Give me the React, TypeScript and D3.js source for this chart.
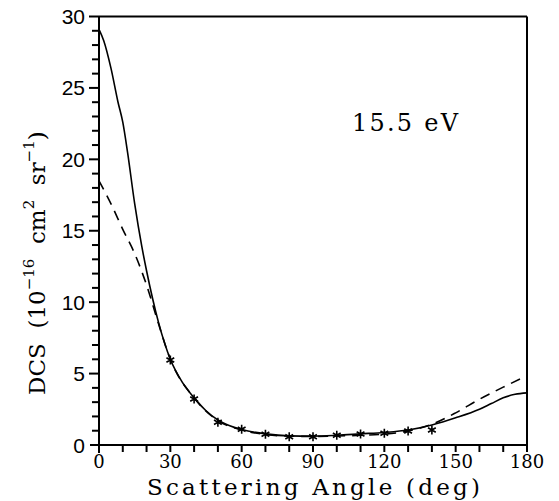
import React from "react";
import { scaleLinear, line, curveMonotoneX, range } from "d3";

// solid curve (theory 1)
const solidAngles = [0, 2, 5, 8, 10, 12, 15, 18, 20, 25, 30, 35, 40, 45, 50, 55, 60, 70, 80, 90, 100, 110, 120, 130, 140, 150, 160, 165, 170, 175, 180];
const solidDcs = [29.1, 28.3, 26.4, 24.0, 22.6, 20.5, 16.9, 13.9, 12.2, 8.6, 6.0, 4.4, 3.3, 2.4, 1.75, 1.35, 1.08, 0.78, 0.64, 0.62, 0.68, 0.78, 0.88, 1.05, 1.4, 1.9, 2.5, 2.9, 3.3, 3.55, 3.65];

// dashed curve (theory 2)
const dashAngles = [0, 5, 10, 15, 20, 25, 30, 40, 50, 60, 70, 80, 90, 100, 110, 120, 130, 140, 150, 160, 170, 180];
const dashDcs = [18.5, 16.9, 15.1, 13.4, 11.2, 8.5, 6.0, 3.3, 1.7, 1.05, 0.74, 0.62, 0.6, 0.63, 0.68, 0.76, 0.98, 1.45, 2.25, 3.2, 4.05, 4.85];

// measured points (asterisks)
const expAngles = [30, 40, 50, 60, 70, 80, 90, 100, 110, 120, 130, 140];
const expDcs = [5.95, 3.22, 1.59, 1.1, 0.75, 0.58, 0.58, 0.68, 0.77, 0.82, 0.98, 1.05];

const xTickLabels = [0, 30, 60, 90, 120, 150, 180];
const yTickLabels = [0, 5, 10, 15, 20, 25, 30];

const LEFT = 99;
const RIGHT = 527;
const TOP = 16.5;
const BOTTOM = 445;

const SERIF = "'DejaVu Serif', serif";
const SANS = "'Liberation Sans', Arial, sans-serif";

export default function App() {
  const x = scaleLinear().domain([0, 180]).range([LEFT, RIGHT]);
  const y = scaleLinear().domain([0, 30]).range([BOTTOM, TOP]);

  const lineFn = line<[number, number]>()
    .x(d => x(d[0]))
    .y(d => y(d[1]))
    .curve(curveMonotoneX);

  const solid = solidAngles.map((a, i) => [a, solidDcs[i]] as [number, number]);
  const dashed = dashAngles.map((a, i) => [a, dashDcs[i]] as [number, number]);

  const starPath = (cx: number, cy: number) => {
    const r = 4.5;
    let p = "";
    [90, 30, 150].forEach(deg => {
      const t = (deg * Math.PI) / 180;
      const dx = r * Math.cos(t);
      const dy = r * Math.sin(t);
      p += `M${cx - dx},${cy - dy}L${cx + dx},${cy + dy}`;
    });
    return p;
  };

  return (
    <svg
      width={559}
      height={501}
      style={{ position: "absolute", left: 0, top: 0, background: "#fff" }}
    >
      <rect width={559} height={501} fill="#fff" />

      {/* frame */}
      <g stroke="#000" strokeWidth={2} fill="none">
        <line x1={LEFT} x2={RIGHT} y1={TOP} y2={TOP} />
        <line x1={RIGHT} x2={RIGHT} y1={TOP} y2={BOTTOM + 7} />
        <line x1={LEFT} x2={LEFT} y1={TOP} y2={BOTTOM + 8} />
        <line x1={LEFT - 9} x2={RIGHT} y1={BOTTOM} y2={BOTTOM} />
      </g>

      {/* x ticks */}
      <g stroke="#000" strokeWidth={2}>
        {range(10, 190, 10).map(v => (
          <line key={v} x1={x(v)} x2={x(v)} y1={BOTTOM} y2={BOTTOM + 7} />
        ))}
      </g>
      <g fontFamily={SERIF} fontSize={18} textAnchor="middle">
        {xTickLabels.map(v => (
          <text key={v} x={x(v)} y={468}>
            {v}
          </text>
        ))}
      </g>

      {/* y ticks */}
      <g stroke="#000" strokeWidth={2}>
        {range(1, 31, 1).map(v => (
          <line
            key={v}
            x1={v % 5 === 0 ? LEFT - 10 : LEFT - 7}
            x2={LEFT}
            y1={y(v)}
            y2={y(v)}
          />
        ))}
      </g>
      <g fontFamily={SANS} fontSize={21} textAnchor="end">
        {yTickLabels.map(v => (
          <text key={v} x={85} y={y(v)} dy="0.36em">
            {v}
          </text>
        ))}
      </g>

      {/* curves */}
      <path d={lineFn(solid)!} fill="none" stroke="#000" strokeWidth={1.6} />
      <path
        d={lineFn(dashed)!}
        fill="none"
        stroke="#000"
        strokeWidth={1.6}
        strokeDasharray="10,7"
      />

      {/* measured points */}
      <g stroke="#000" strokeWidth={1.6}>
        {expAngles.map((a, i) => (
          <path key={a} d={starPath(x(a), y(expDcs[i]))} />
        ))}
      </g>

      {/* energy label */}
      <text x={352} y={131} fontFamily={SERIF} fontSize={24} textLength={106} lengthAdjust="spacing">
        15.5  eV
      </text>

      {/* axis titles */}
      <text
        x={147}
        y={495}
        fontFamily={SERIF}
        fontSize={23}
        textLength={333}
        lengthAdjust="spacing"
      >
        Scattering Angle (deg)
      </text>
      <g transform="translate(45, 395) rotate(-90)">
        <text x={0} y={0} fontFamily={SERIF} fontSize={23} style={{ whiteSpace: "pre" }}>
          <tspan>DCS  (10</tspan>
          <tspan fontSize={15} dy={-11}>−16</tspan>
          <tspan dy={11}>  cm</tspan>
          <tspan fontSize={15} dy={-11}>2</tspan>
          <tspan dy={11}>  sr</tspan>
          <tspan fontSize={15} dy={-11}>−1</tspan>
          <tspan dy={11}>)</tspan>
        </text>
      </g>
    </svg>
  );
}
